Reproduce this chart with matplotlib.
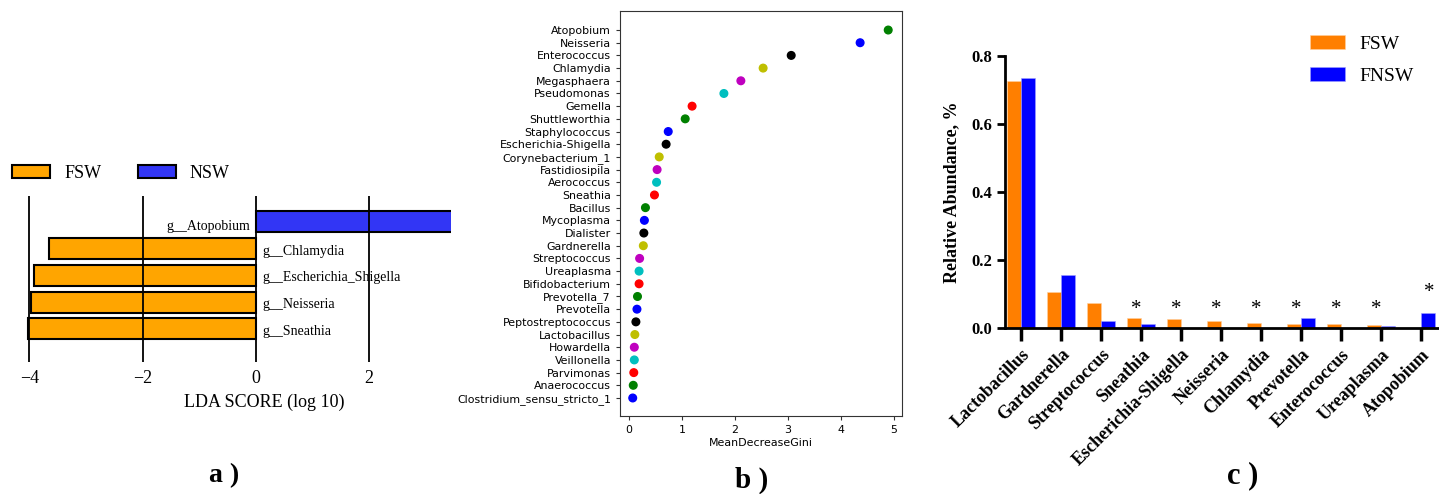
import numpy as np
import matplotlib
matplotlib.use("Agg")
import matplotlib.pyplot as plt
from matplotlib.patches import Patch

# ---- data -------------------------------------------------------------------
# a) LEfSe LDA scores
lda_taxa = ["g__Sneathia", "g__Neisseria", "g__Escherichia_Shigella", "g__Chlamydia", "g__Atopobium"]
lda_score = [-4.02, -3.97, -3.92, -3.65, 3.6]
lda_group = ["FSW", "FSW", "FSW", "FSW", "NSW"]

# b) random forest importance (top to bottom as shown)
rf_taxa = ["Atopobium", "Neisseria", "Enterococcus", "Chlamydia", "Megasphaera",
           "Pseudomonas", "Gemella", "Shuttleworthia", "Staphylococcus",
           "Escherichia-Shigella", "Corynebacterium_1", "Fastidiosipila", "Aerococcus",
           "Sneathia", "Bacillus", "Mycoplasma", "Dialister", "Gardnerella",
           "Streptococcus", "Ureaplasma", "Bifidobacterium", "Prevotella_7", "Prevotella",
           "Peptostreptococcus", "Lactobacillus", "Howardella", "Veillonella",
           "Parvimonas", "Anaerococcus", "Clostridium_sensu_stricto_1"]
rf_gini = [4.89, 4.36, 3.06, 2.53, 2.11, 1.79, 1.19, 1.06, 0.74, 0.70, 0.57, 0.53,
           0.52, 0.48, 0.31, 0.29, 0.28, 0.27, 0.20, 0.19, 0.19, 0.16, 0.15, 0.13,
           0.11, 0.10, 0.10, 0.09, 0.08, 0.07]

# c) relative abundance
genera = ["Lactobacillus", "Gardnerella", "Streptococcus", "Sneathia", "Escherichia-Shigella",
          "Neisseria", "Chlamydia", "Prevotella", "Enterococcus", "Ureaplasma", "Atopobium"]
fsw = [0.727, 0.106, 0.073, 0.029, 0.027, 0.021, 0.014, 0.012, 0.011, 0.009, 0.0]
fnsw = [0.734, 0.157, 0.021, 0.012, 0.0, 0.0, 0.0, 0.028, 0.0, 0.005, 0.043]
signif = [False, False, False, True, True, True, True, True, True, True, True]
star_y = [0, 0, 0, 0.055, 0.055, 0.055, 0.055, 0.055, 0.055, 0.055, 0.103]

SERIF = "Liberation Serif"
W, H = 1439, 494
fig = plt.figure(figsize=(W / 100, H / 100), dpi=100)

def box(l, t, r, b):
    return [l / W, 1 - b / H, (r - l) / W, (b - t) / H]

# ---- a) LDA bars ------------------------------------------------------------
ax = fig.add_axes(box(1, 196, 451, 362))
col_a = {"FSW": "#FFA500", "NSW": "#3236F5"}
y = np.arange(len(lda_taxa))
ax.barh(y, lda_score, height=0.78, color=[col_a[g] for g in lda_group],
        edgecolor="black", linewidth=1.5, zorder=2)
for xv in [-4, -2, 0, 2]:
    ax.axvline(xv, color="black", lw=1.3, zorder=3)
for yi, s, t in zip(y, lda_score, lda_taxa):
    if s < 0:
        ax.text(0.12, yi - 0.1, t, ha="left", va="center", fontsize=10, family=SERIF)
    else:
        ax.text(-0.1, yi - 0.2, t, ha="right", va="center", fontsize=10, family=SERIF)
ax.set_xlim(-4.5, 3.45)
ax.set_ylim(-1.23, 4.95)
ax.set_xticks([-4, -2, 0, 2])
ax.set_xticklabels(["\u22124", "\u22122", "0", "2"], family=SERIF, fontsize=13)
ax.tick_params(axis="x", length=0, pad=6)
ax.set_yticks([])
for sp in ax.spines.values():
    sp.set_visible(False)
ax.legend(handles=[Patch(facecolor=col_a["FSW"], edgecolor="black", lw=1.5, label="FSW"),
                   Patch(facecolor=col_a["NSW"], edgecolor="black", lw=1.5, label="NSW")],
          loc="center left", bbox_to_anchor=(12 / W, 1 - 173.5 / H),
          bbox_transform=fig.transFigure, ncol=2, frameon=False, borderpad=0,
          borderaxespad=0, handlelength=2.1, handleheight=0.72, handletextpad=0.8,
          columnspacing=2.0, prop={"family": SERIF, "size": 13})
fig.text(264 / W, 1 - 402 / H, "LDA SCORE (log 10)", ha="center", va="center",
         family=SERIF, fontsize=13)
fig.text(224 / W, 1 - 476 / H, "a )", ha="center", va="center", family=SERIF,
         fontsize=20, fontweight="bold")

# ---- b) MeanDecreaseGini dot chart -------------------------------------------
ax = fig.add_axes(box(620, 11, 902, 416))
n = len(rf_taxa)
yp = np.arange(n, 0, -1)
cyc = ["b", "g", "r", "c", "m", "y", "k"]
cols = [cyc[(k - 1) % 7] for k in yp]
ax.scatter(rf_gini, yp, s=30, c=cols, zorder=3)
ax.set_yticks(yp)
ax.set_yticklabels(rf_taxa, fontsize=7.9)
ax.set_xticks(range(6))
ax.tick_params(labelsize=7.9, length=3, color="#333333")
ax.set_xlim(-0.17, 5.15)
ax.set_ylim(-0.42, n + 1.5)
for sp in ax.spines.values():
    sp.set_color("#333333")
fig.text(761 / W, 1 - 443 / H, "MeanDecreaseGini", ha="center", va="center", fontsize=7.9)
fig.text(752 / W, 1 - 480 / H, "b )", ha="center", va="center", family=SERIF,
         fontsize=21, fontweight="bold")

# ---- c) relative abundance bars ----------------------------------------------
ax = fig.add_axes(box(1005, 56, 1439, 328))
x = np.arange(len(genera))
bw = 0.35
ax.bar(x - bw / 2, fsw, bw, color="#FF7F00", edgecolor="#FFD0A0", lw=0.4, label="FSW")
ax.bar(x + bw / 2, fnsw, bw, color="#0000FF", edgecolor="#A0A0FF", lw=0.4, label="FNSW")
for xi, s, sy, a in zip(x, signif, star_y, fsw):
    if s:
        off = -0.13 if a > 0 else 0.2
        ax.text(xi + off, sy, "*", ha="center", va="center", fontsize=15, family=SERIF)
ax.set_xlim(-0.4, 10.45)
ax.set_ylim(0, 0.8)
ax.set_yticks([0, 0.2, 0.4, 0.6, 0.8])
ax.set_yticklabels(["0.0", "0.2", "0.4", "0.6", "0.8"], family=SERIF,
                   fontsize=12, fontweight="bold")
ax.set_xticks(x)
ax.set_xticklabels(genera, rotation=45, ha="right", va="top", rotation_mode="anchor",
                   family=SERIF, fontsize=13, fontweight="bold")
ax.tick_params(axis="y", length=6, width=2)
ax.tick_params(axis="x", length=9, width=2.5, pad=4)
for s in ["top", "right"]:
    ax.spines[s].set_visible(False)
for s in ["left", "bottom"]:
    ax.spines[s].set_linewidth(2)
ax.set_ylabel("Relative Abundance, %", family=SERIF, fontsize=13, fontweight="bold",
              labelpad=8)
ax.legend(loc="center left", bbox_to_anchor=(1310 / W, 1 - 60 / H),
          bbox_transform=fig.transFigure, frameon=False, borderpad=0, borderaxespad=0,
          handlelength=1.8, handleheight=0.7, handletextpad=0.75, labelspacing=0.75,
          prop={"family": SERIF, "size": 14})
fig.text(1243 / W, 1 - 476 / H, "c )", ha="center", va="center", family=SERIF,
         fontsize=22, fontweight="bold")

fig.savefig("out.png", dpi=100)
